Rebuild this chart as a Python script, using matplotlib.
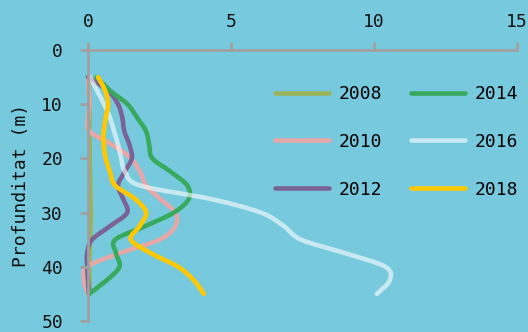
import numpy as np
import matplotlib
matplotlib.use('Agg')
import matplotlib.pyplot as plt
from matplotlib.path import Path
from matplotlib.patches import PathPatch

plt.rcParams['font.family'] = ['DejaVu Sans Mono', 'DejaVu Sans']

depth = [5, 7.5, 10, 12.5, 15, 17.5, 20, 22.5, 25, 27.5, 30,
         32.5, 35, 37.5, 40, 42.5, 45]

y2008 = [0.02, 0.03, 0.05, 0.05, 0.05, 0.06, 0.06, 0.07, 0.08, 0.09, 0.1,
         0.09, 0.07, 0.06, 0.05, 0.05, 0.05]
y2010 = [0.0, 0.02, 0.05, 0.0, 0.05, 0.85, 1.5, 1.82, 2.03, 2.53, 3.05,
         3.05, 2.5, 1.1, -0.03, -0.14, 0.0]
y2012 = [0.0, 0.7, 1.05, 1.2, 1.27, 1.45, 1.53, 1.28, 1.05, 1.23, 1.37,
         0.77, 0.14, -0.03, -0.03, 0.0, 0.03]
y2014 = [0.3, 0.77, 1.38, 1.72, 2.03, 2.14, 2.25, 2.9, 3.47, 3.52, 3.0,
         2.0, 0.95, 0.98, 1.1, 0.65, 0.03]
y2016 = [0.07, 0.32, 0.56, 0.77, 0.91, 1.05, 1.16, 1.3, 1.82, 4.3, 6.05,
         6.85, 7.45, 9.0, 10.4, 10.55, 10.1]
y2018 = [0.35, 0.6, 0.7, 0.62, 0.55, 0.55, 0.62, 0.77, 0.95, 1.65, 2.03,
         1.8, 1.5, 2.2, 3.15, 3.7, 4.05]

years = ['2008', '2010', '2012', '2014', '2016', '2018']
series = [y2008, y2010, y2012, y2014, y2016, y2018]
colors = ['#9bb45c', '#e6a7a7', '#7a6396', '#37aa5e', 'white', '#ffc800']
alphas = [1, 1, 1, 1, 0.6, 1]

bg = '#77cadd'
grey = '#a0a0a0'


def smooth_path(xs, ys):
    # catmull-rom through the points, drawn as cubic beziers
    p = np.column_stack([xs, ys]).astype(float)
    p = np.vstack([p[0], p, p[-1]])
    verts = [p[1]]
    codes = [Path.MOVETO]
    for i in range(1, len(p) - 2):
        c1 = p[i] + (p[i + 1] - p[i - 1]) / 6
        c2 = p[i + 1] - (p[i + 2] - p[i]) / 6
        verts += [c1, c2, p[i + 1]]
        codes += [Path.CURVE4] * 3
    return Path(verts, codes)


fig = plt.figure(figsize=(5.28, 3.32), dpi=100, facecolor=bg)
ax = fig.add_axes([88 / 528, 1 - 321 / 332, 429 / 528, 271 / 332])
ax.set_facecolor(bg)

for yr, vals, c, a in zip(years, series, colors, alphas):
    patch = PathPatch(smooth_path(vals, depth), fill=False, edgecolor=c,
                      alpha=a, lw=3.3, capstyle='round', joinstyle='round',
                      clip_on=False)
    ax.add_patch(patch)
    ax.plot([], [], color=c, alpha=a, lw=3.3, solid_capstyle='round',
            label=yr)

ax.set_xlim(0, 15)
ax.set_ylim(50, 0)
ax.set_xticks([0, 5, 10, 15])
ax.set_yticks([0, 10, 20, 30, 40, 50])
ax.xaxis.tick_top()
for s in ['right', 'bottom']:
    ax.spines[s].set_visible(False)
for s in ['left', 'top']:
    ax.spines[s].set_color(grey)
    ax.spines[s].set_linewidth(2)
ax.tick_params(axis='both', colors=grey, length=6, width=2,
               labelcolor='#111111', labelsize=13)
ax.tick_params(axis='x', pad=7.5)
ax.tick_params(axis='y', pad=12)
ax.set_ylabel('Profunditat (m)', fontsize=13, color='#111111', labelpad=8)

ax.legend(loc='upper left', bbox_to_anchor=(275 / 528, 1 - 85 / 332),
          bbox_transform=fig.transFigure, ncol=2, frameon=False,
          fontsize=13, handlelength=3.0, handletextpad=0.55,
          columnspacing=1.55, labelspacing=1.65, borderpad=0,
          borderaxespad=0)

fig.savefig('out.png', dpi=100, facecolor=bg)
